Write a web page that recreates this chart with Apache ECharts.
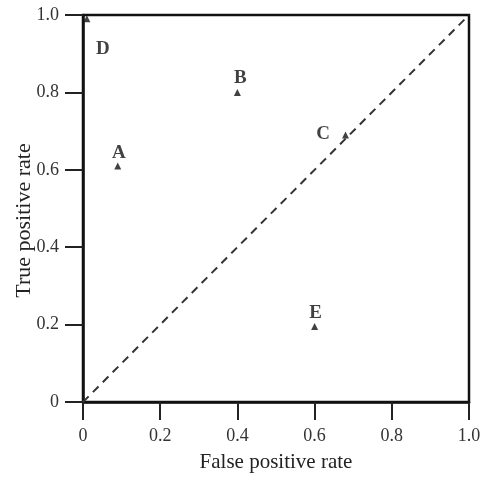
<!DOCTYPE html>
<html><head><meta charset="utf-8">
<script src="https://cdn.jsdelivr.net/npm/echarts@6/dist/echarts.min.js"></script>
<style>html,body{margin:0;padding:0;background:#fff}#c{width:480px;height:479px}</style>
</head><body><div id="c"></div>
<script>
const pointNames = ['A', 'B', 'C', 'D', 'E'];
const fprValues = [0.09, 0.40, 0.68, 0.01, 0.60];
const tprValues = [0.61, 0.80, 0.69, 0.99, 0.195];
const diagonalX = [0, 1];
const diagonalY = [0, 1];
const tickValues = [0, 0.2, 0.4, 0.6, 0.8, 1.0];

const labelPos = {A: ['top', [1, 5]], B: ['top', [3, 4]], C: ['left', [-7, -1]], D: ['bottom', [16, 12]], E: ['top', [1, 5]]};
const font = '"Liberation Serif", "DejaVu Serif", serif';
const fmt = v => v === 0 ? '0' : v.toFixed(1);

const chart = echarts.init(document.getElementById('c'), null, {renderer: 'canvas'});
chart.setOption({
  animation: false,
  grid: {left: 83, right: 11, top: 15, bottom: 77, outerBoundsMode: 'none', containLabel: false,
         show: true, borderColor: '#111', borderWidth: 2.5, backgroundColor: 'transparent'},
  xAxis: {
    type: 'value', min: 0, max: 1, interval: 0.2,
    name: 'False positive rate', nameLocation: 'middle', nameGap: 50, nameMoveOverlap: false,
    nameTextStyle: {fontFamily: font, fontSize: 21, color: '#222'},
    axisLine: {show: true, lineStyle: {color: '#111', width: 2.5}},
    axisTick: {show: true, length: 18, lineStyle: {color: '#222', width: 2}},
    axisLabel: {formatter: fmt, fontFamily: font, fontSize: 18, color: '#333', margin: 25},
    splitLine: {show: false}
  },
  yAxis: {
    type: 'value', min: 0, max: 1, interval: 0.2,
    name: 'True positive rate', nameLocation: 'middle', nameGap: 48, nameMoveOverlap: false,
    nameTextStyle: {fontFamily: font, fontSize: 22, color: '#222', padding: [0, 24, 0, 0]},
    axisLine: {show: true, lineStyle: {color: '#111', width: 2.5}},
    axisTick: {show: true, length: 18, lineStyle: {color: '#222', width: 2}},
    axisLabel: {formatter: fmt, fontFamily: font, fontSize: 18, color: '#333', margin: 24},
    splitLine: {show: false}
  },
  series: [
    {
      type: 'line',
      data: diagonalX.map((x, i) => [x, diagonalY[i]]),
      symbol: 'none',
      lineStyle: {color: '#333', width: 2, type: [8, 6]},
      z: 1
    },
    {
      type: 'scatter',
      symbol: 'triangle', symbolSize: 7,
      itemStyle: {color: '#111'},
      data: pointNames.map((n, i) => ({
        name: n, value: [fprValues[i], tprValues[i]],
        label: {show: true, formatter: n, position: labelPos[n][0], offset: labelPos[n][1],
                fontFamily: font, fontSize: 19, fontWeight: 'bold', color: '#111'}
      })),
      z: 3
    }
  ]
});
</script></body></html>
